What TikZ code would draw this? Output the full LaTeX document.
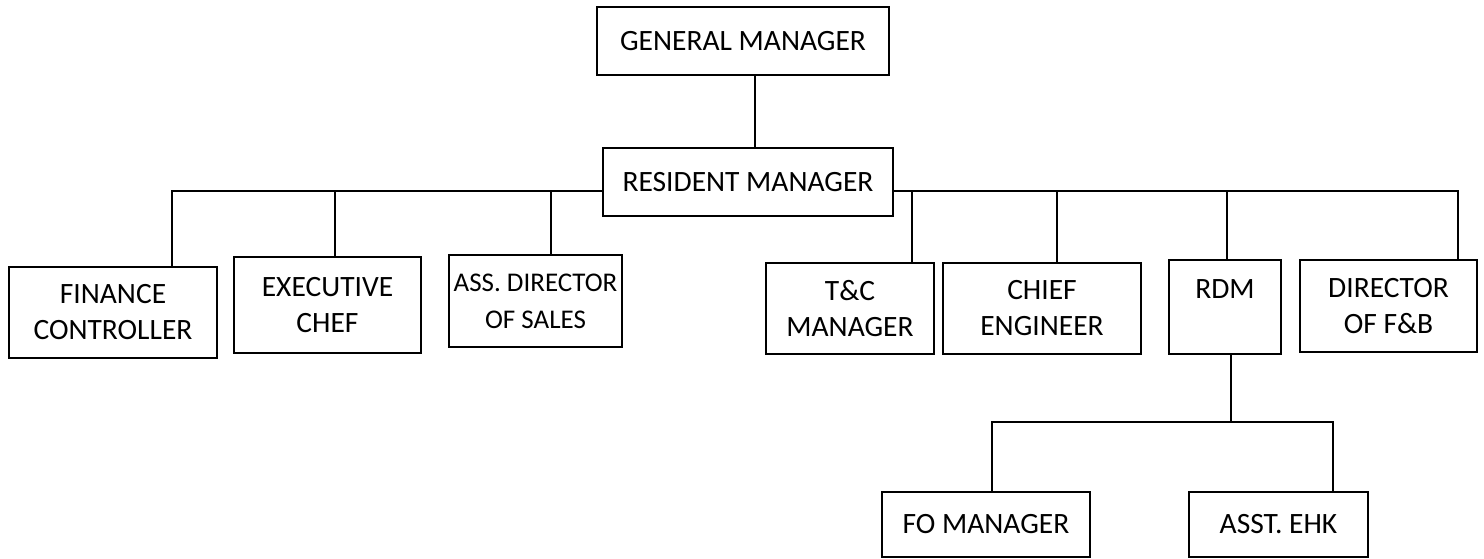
\documentclass[tikz,border=0pt]{standalone}
\usepackage{fontspec}
\setmainfont{Carlito}

\begin{document}
\begin{tikzpicture}[x=1pt,y=-1pt,
    post/.style={draw,line width=2.4pt,align=center,inner sep=0pt,font=\fontsize{29.5}{36}\selectfont},
    link/.style={line width=2.4pt}]
    \useasboundingbox (0,0) rectangle (1484,559);

    % Top
    \node[post,minimum width=292pt,minimum height=68pt] (gm) at (743,41) {GENERAL MANAGER};
    \node[post,minimum width=290pt,minimum height=68pt] (rm) at (748,182) {RESIDENT MANAGER};
    \coordinate (spine) at (755,0);
    \draw[link] (gm.south -| spine) -- (rm.north -| spine);

    % Left branch
    \node[post,minimum width=208pt,minimum height=91pt] (fin) at (113,312.5) {FINANCE\\CONTROLLER};
    \node[post,minimum width=187pt,minimum height=96pt] (chef) at (327.5,305) {EXECUTIVE\\CHEF};
    \node[post,minimum width=173pt,minimum height=92pt,font=\fontsize{27}{37}\selectfont] (sales) at (535.5,301) {ASS. DIRECTOR\\OF SALES};
    \coordinate (busL) at (172,191);
    \coordinate (dChef) at (335,191);
    \coordinate (dSales) at (551,191);
    \draw[link] (rm.west |- busL) -- (busL) -- (busL |- fin.north);
    \draw[link] (dChef) -- (dChef |- chef.north);
    \draw[link] (dSales) -- (dSales |- sales.north);

    % Right branch
    \node[post,minimum width=168pt,minimum height=91pt] (tc) at (850,308.5) {T\&C\\MANAGER};
    \node[post,minimum width=198pt,minimum height=91pt] (eng) at (1042,308.5) {CHIEF\\ENGINEER};
    \node[post,minimum width=112pt,minimum height=94pt] (rdm) at (1225,307) {RDM\\\mbox{}};
    \node[post,minimum width=177pt,minimum height=92pt] (fnb) at (1388.5,306) {DIRECTOR\\OF F\&B};
    \coordinate (busR) at (1458,191);
    \coordinate (dTc) at (912,191);
    \coordinate (dEng) at (1057,191);
    \coordinate (dRdm) at (1227,191);
    \draw[link] (rm.east |- busR) -- (busR) -- (busR |- fnb.north);
    \draw[link] (dTc) -- (dTc |- tc.north);
    \draw[link] (dEng) -- (dEng |- eng.north);
    \draw[link] (dRdm) -- (dRdm |- rdm.north);

    % Under RDM
    \node[post,minimum width=208pt,minimum height=65pt] (fo) at (986,524.5) {FO MANAGER};
    \node[post,minimum width=179pt,minimum height=65pt] (ehk) at (1278.5,524.5) {ASST. EHK};
    \coordinate (dSub) at (1231,422);
    \coordinate (subL) at (992,422);
    \coordinate (subR) at (1333,422);
    \draw[link] (rdm.south -| dSub) -- (dSub);
    \draw[link] (subL |- fo.north) -- (subL) -- (subR) -- (subR |- ehk.north);
\end{tikzpicture}
\end{document}
